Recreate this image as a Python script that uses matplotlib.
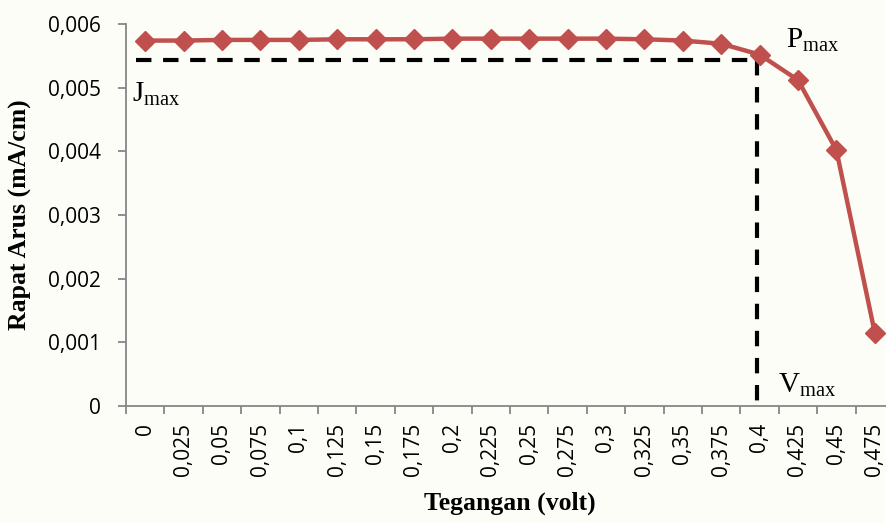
import numpy as np
import matplotlib
matplotlib.use("Agg")
import matplotlib.pyplot as plt

# data
tegangan = ['0', '0,025', '0,05', '0,075', '0,1', '0,125', '0,15', '0,175', '0,2', '0,225',
            '0,25', '0,275', '0,3', '0,325', '0,35', '0,375', '0,4', '0,425', '0,45', '0,475']
rapat_arus = [0.00574, 0.00574, 0.00575, 0.00575, 0.00575, 0.00576, 0.00576, 0.00576, 0.00577, 0.00577,
              0.00577, 0.00577, 0.00577, 0.00576, 0.00574, 0.00569, 0.00552, 0.00512, 0.00402, 0.00115]
j_max = 0.005435
v_line_x = 15.92

y_ticks = [0, 0.001, 0.002, 0.003, 0.004, 0.005, 0.006]
y_labels = ['0', '0,001', '0,002', '0,003', '0,004', '0,005', '0,006']

bg = '#fdfdf8'
red = '#c0504d'
grey = '#868686'
serif = 'Liberation Serif'
sans = 'Open Sans'

fig = plt.figure(figsize=(8.86, 5.23), dpi=100, facecolor=bg)
ax = fig.add_axes([0.1422, 0.2237, 0.8668, 0.7304], facecolor=bg)

x = np.arange(len(tegangan))
ax.plot(x, rapat_arus, color=red, lw=3.2, marker='D', markersize=10, zorder=3)

# Jmax / Vmax guide lines
dash = (0, (3.7, 2.8))
ax.plot([-0.24, v_line_x], [j_max, j_max], color='black', lw=3, ls=dash, zorder=2)
ax.plot([v_line_x, v_line_x], [j_max, 0], color='black', lw=3, ls=dash, zorder=2)

ax.text(-0.34, 0.004775, r'$\mathregular{J_{max}}$', family=serif, fontsize=21, ha='left', va='baseline')
ax.text(16.69, 0.005623, r'$\mathregular{P_{max}}$', family=serif, fontsize=21, ha='left', va='baseline')
ax.text(16.48, 0.000204, r'$\mathregular{V_{max}}$', family=serif, fontsize=21, ha='left', va='baseline')

ax.set_xlim(-0.5, len(tegangan) - 0.5)
ax.set_ylim(0, 0.006)

ax.set_yticks(y_ticks)
ax.set_yticklabels(y_labels, family=sans, fontsize=15)

ax.set_xticks(np.arange(-0.5, len(tegangan), 1.0))
ax.set_xticklabels([])
ax.set_xticks(x, minor=True)
ax.set_xticklabels(tegangan, minor=True, rotation=90, family=sans, fontsize=15)
ax.tick_params(axis='x', which='minor', length=0, pad=12)
ax.tick_params(axis='y', which='major', pad=12)
ax.tick_params(axis='both', which='major', length=6, width=1.3, color=grey)

for side in ['top', 'right']:
    ax.spines[side].set_visible(False)
for side in ['left', 'bottom']:
    ax.spines[side].set_color(grey)
    ax.spines[side].set_linewidth(1.3)

ax.set_ylabel('Rapat Arus (mA/cm)', family=serif, fontweight='bold', fontsize=18.5)
ax.set_xlabel('Tegangan (volt)', family=serif, fontweight='bold', fontsize=18.5)
ax.yaxis.set_label_coords(-0.1224, 0.5, transform=ax.transAxes)
ax.xaxis.set_label_coords(0.5, -0.225, transform=ax.transAxes)

fig.savefig('out.png', dpi=100, facecolor=bg)
